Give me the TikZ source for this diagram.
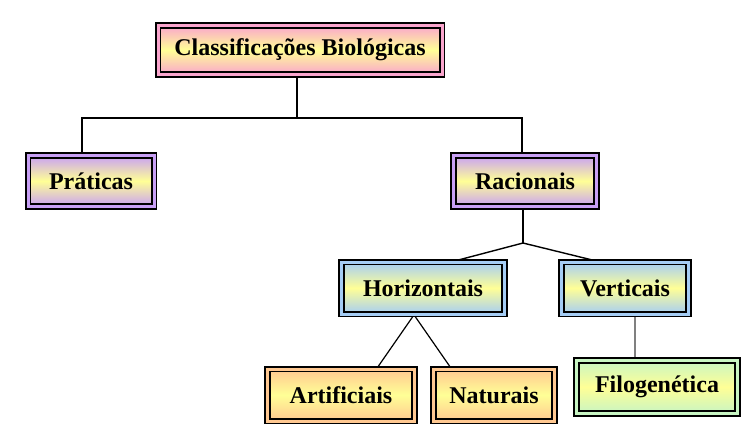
\documentclass[tikz,border=0pt]{standalone}
\usepackage{fontspec}
\setmainfont{Liberation Serif}
\usetikzlibrary{backgrounds}
\definecolor{boxyellow}{RGB}{255,255,150}
\definecolor{boxpink}{RGB}{250,165,205}
\definecolor{boxlilac}{RGB}{200,160,245}
\definecolor{boxblue}{RGB}{165,205,245}
\definecolor{boxtan}{RGB}{255,200,145}
\definecolor{boxgreen}{RGB}{200,245,195}

\begin{document}
\begin{tikzpicture}[x=1pt,y=-1pt,
		classbox/.style={draw=black, line width=1.7pt, double distance=3pt, inner sep=0pt,
			font=\fontsize{24}{28}\selectfont\bfseries,
			top color=#1, bottom color=#1, middle color=boxyellow, double=#1},
		link/.style={line width=1.4pt}]
			\useasboundingbox (0,0) rectangle (752,437);
			\node[classbox=boxpink, minimum width=284pt, minimum height=49pt] (cls) at (300,50) {Classificações Biológicas};
			\node[classbox=boxlilac, minimum width=126pt, minimum height=51pt] (prat) at (91,181) {Práticas};
			\node[classbox=boxlilac, minimum width=143pt, minimum height=51pt] (rac) at (525,181) {Racionais};
			\node[classbox=boxblue, minimum width=163pt, minimum height=52pt] (hor) at (423,288) {Horizontais};
			\node[classbox=boxblue, minimum width=127pt, minimum height=52pt] (ver) at (625,288) {Verticais};
			\node[classbox=boxtan, minimum width=147pt, minimum height=52pt] (art) at (341,395) {Artificiais};
			\node[classbox=boxtan, minimum width=121pt, minimum height=52pt] (nat) at (494,395) {Naturais};
			\node[classbox=boxgreen, minimum width=161pt, minimum height=53pt] (fil) at (657,387) {Filogenética};
			\begin{scope}[on background layer]
				\coordinate (b1) at (297,118);
				\coordinate (b2) at (523,243);
				\draw[link] (cls.south -| b1) -- (b1);
				\draw[link] (b1) -| ([xshift=-9pt]prat.north);
				\draw[link] (b1) -| ([xshift=-3pt]rac.north);
				\draw[link] (rac.south -| b2) -- (b2);
				\draw[link] (b2) -- ([xshift=31pt]hor.north);
				\draw[link] (b2) -- ([xshift=-28pt]ver.north);
				\draw[link, line width=1.2pt] ([xshift=36pt]art.north) -- ([xshift=-9pt]hor.south) -- ([xshift=-43pt]nat.north);
				\draw[link, gray] ([xshift=10pt]ver.south) -- ([xshift=-22pt]fil.north);
			\end{scope}
		\end{tikzpicture}
\end{document}
